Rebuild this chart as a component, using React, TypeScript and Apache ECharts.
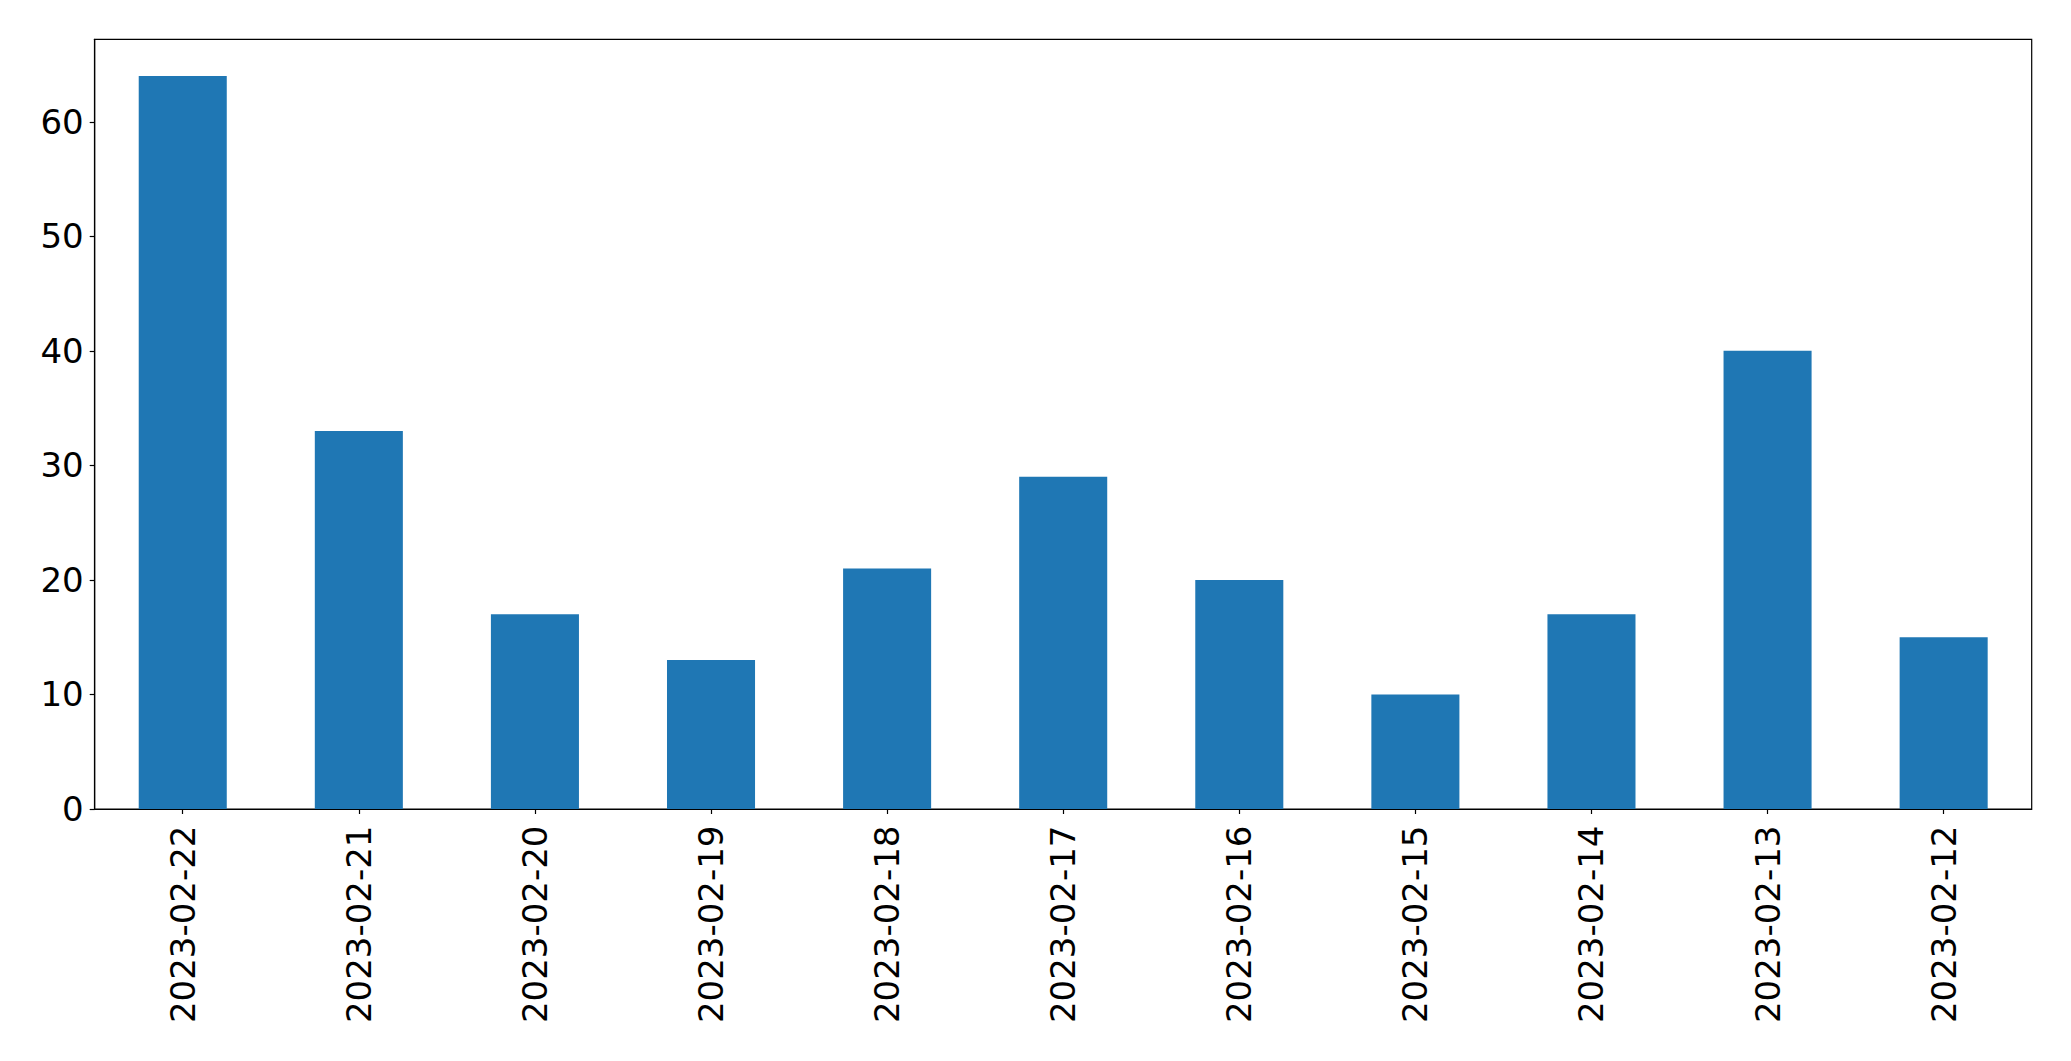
import React, { useEffect, useRef } from "react";
import * as echarts from "echarts";

const categories = [
  "2023-02-22", "2023-02-21", "2023-02-20", "2023-02-19", "2023-02-18", "2023-02-17",
  "2023-02-16", "2023-02-15", "2023-02-14", "2023-02-13", "2023-02-12",
];
const counts = [64, 33, 17, 13, 21, 29, 20, 10, 17, 40, 15];
const yTicks = [0, 10, 20, 30, 40, 50, 60];

export default function App() {
  const ref = useRef<HTMLDivElement>(null);
  useEffect(() => {
    if (!ref.current) return;
    const chart = echarts.init(ref.current, undefined, { renderer: "svg" });
    const font = "DejaVu Sans";
    chart.setOption({
      animation: false,
      backgroundColor: "#ffffff",
      grid: {
        left: 94.7,
        top: 39.3,
        right: 39.3,
        bottom: 252,
        containLabel: false,
        show: true,
        borderColor: "#000000",
        borderWidth: 1.2,
        backgroundColor: "transparent",
      },
      xAxis: {
        type: "category",
        data: categories,
        boundaryGap: true,
        axisLine: { show: true, lineStyle: { color: "#000", width: 1.2 } },
        axisTick: { show: true, alignWithLabel: true, length: 5, lineStyle: { color: "#000", width: 1.2 } },
        axisLabel: {
          rotate: 90,
          margin: 16.5,
          color: "#000",
          fontFamily: font,
          fontSize: 34,
          interval: 0,
        },
        splitLine: { show: false },
      },
      yAxis: {
        type: "value",
        min: 0,
        max: 67.2,
        interval: 10,
        axisLine: { show: true, lineStyle: { color: "#000", width: 1.2 } },
        axisTick: { show: true, length: 5, lineStyle: { color: "#000", width: 1.2 }, customValues: yTicks },
        axisLabel: {
          margin: 11,
          color: "#000",
          fontFamily: font,
          fontSize: 34,
          customValues: yTicks,
        },
        splitLine: { show: false },
      },
      series: [
        {
          type: "bar",
          data: counts,
          barWidth: "50%",
          itemStyle: { color: "#1f77b4" },
        },
      ],
    });
    return () => chart.dispose();
  }, []);
  return (
    <div
      ref={ref}
      style={{ position: "fixed", left: 0, top: 0, width: 2071, height: 1061, background: "#fff" }}
    />
  );
}
